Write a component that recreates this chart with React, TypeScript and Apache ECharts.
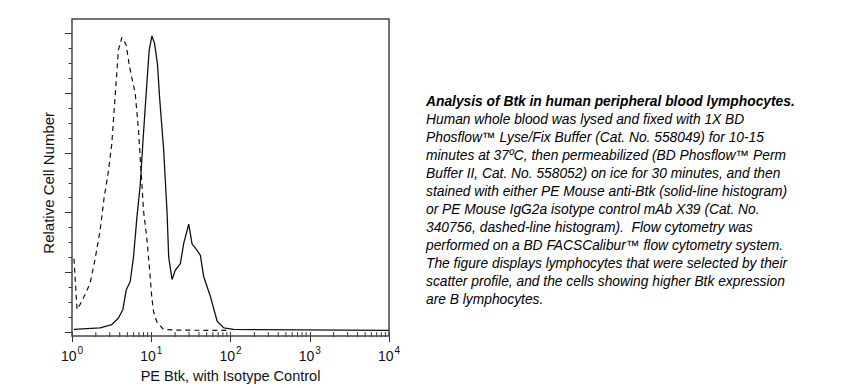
import React, { useEffect, useRef } from "react";
import * as echarts from "echarts";

// Solid-line histogram (PE anti-Btk): fluorescence (log), relative cell number
const solidX = [1.06, 2.26, 3.18, 3.86, 4.38, 4.83, 5.42, 5.97, 6.59, 7.26, 8.0, 8.82, 9.43, 10.2, 11.0, 12.0, 12.7, 14.3, 15.8, 16.6, 18.3, 20.1, 23.3, 25.6, 29.7, 32.7, 37.9, 41.7, 45.9, 55.8, 67.9, 82.2, 110, 10000];
const solidY = [0.045, 0.07, 0.127, 0.236, 0.375, 0.706, 0.843, 1.256, 1.917, 2.468, 3.35, 4.177, 4.727, 4.959, 4.838, 4.479, 3.955, 3.074, 2.028, 1.256, 0.881, 1.036, 1.145, 1.476, 1.807, 1.476, 1.367, 1.284, 0.926, 0.595, 0.182, 0.071, 0.045, 0.028];

// Dashed-line histogram (isotype control)
const dashX = [1.06, 1.157, 1.263, 1.461, 1.69, 1.955, 2.262, 2.541, 2.856, 3.18, 3.502, 3.855, 4.256, 4.826, 5.313, 5.748, 6.275, 6.91, 7.47, 7.99, 8.82, 9.51, 10.14, 10.69, 11.8, 14.3, 20.1, 100];
const dashY = [1.228, 0.38, 0.463, 0.628, 0.815, 1.223, 1.702, 2.248, 2.661, 3.157, 3.95, 4.727, 4.934, 4.81, 4.451, 4.231, 4.0, 3.372, 2.661, 2.033, 1.554, 1.058, 0.595, 0.347, 0.165, 0.045, 0.033, 0.028];

// Log-axis minor tick values
const minorTickValues = [
  2, 3, 4, 5, 6, 7, 8, 9,
  20, 30, 40, 50, 60, 70, 80, 90,
  200, 300, 400, 500, 600, 700, 800, 900,
  2000, 3000, 4000, 5000, 6000, 7000, 8000, 9000,
];

const xTitle = "PE Btk, with Isotype Control";
const yTitle = "Relative Cell Number";

const captionTitle = "Analysis of Btk in human peripheral blood lymphocytes.";
const captionLines = [
  "Human whole blood was lysed and fixed with 1X BD",
  "Phosflow™ Lyse/Fix Buffer (Cat. No. 558049) for 10-15",
  "minutes at 37ºC, then permeabilized (BD Phosflow™ Perm",
  "Buffer II, Cat. No. 558052) on ice for 30 minutes, and then",
  "stained with either PE Mouse anti-Btk (solid-line histogram)",
  "or PE Mouse IgG2a isotype control mAb X39 (Cat. No.",
  "340756, dashed-line histogram).  Flow cytometry was",
  "performed on a BD FACSCalibur™ flow cytometry system.",
  "The figure displays lymphocytes that were selected by their",
  "scatter profile, and the cells showing higher Btk expression",
  "are B lymphocytes.",
];

const FONT = "'Liberation Sans', Arial, sans-serif";
const AXIS_COLOR = "#333";
const LINE_COLOR = "#111";

export default function App() {
  const ref = useRef<HTMLDivElement>(null);

  useEffect(() => {
    if (!ref.current) return;
    const chart = echarts.init(ref.current, undefined, { renderer: "svg" });

    const captionText = [
      `{b|${captionTitle}}`,
      ...captionLines.map((l) => `{n|${l}}`),
    ].join("\n");

    const option: any = {
      animation: false,
      backgroundColor: "#fff",
      grid: { left: 72, right: 452, top: 33.5, bottom: 52 },
      xAxis: {
        type: "log",
        logBase: 10,
        min: 1,
        max: 10000,
        splitNumber: 4,
        name: xTitle,
        nameLocation: "middle",
        nameGap: 33,
        nameTextStyle: { fontFamily: FONT, fontSize: 14.5, color: "#111" },
        axisLine: { show: false },
        axisTick: { show: true, length: 10, lineStyle: { color: AXIS_COLOR, width: 1 } },
        splitLine: { show: false },
        axisLabel: {
          margin: 13,
          formatter: (v: number) => `{b|10}{s|${Math.round(Math.log10(v))}}`,
          rich: {
            b: { fontFamily: FONT, fontSize: 14, color: "#111" },
            s: { fontFamily: FONT, fontSize: 10, color: "#111", padding: [0, 0, 12, 1] },
          },
        },
      },
      yAxis: {
        type: "value",
        min: 0,
        max: 5,
        interval: 1,
        name: yTitle,
        nameLocation: "middle",
        nameRotate: 90,
        nameGap: 16,
        nameTextStyle: { fontFamily: FONT, fontSize: 15, color: "#111" },
        axisLine: { show: false },
        axisLabel: { show: false },
        splitLine: { show: false },
        axisTick: { show: true, length: 7, lineStyle: { color: AXIS_COLOR, width: 1 } },
        minorTick: { show: true, splitNumber: 4, length: 3.5, lineStyle: { color: AXIS_COLOR, width: 1 } },
      },
      series: [
        {
          type: "line",
          data: solidX.map((x, i) => [x, solidY[i]]),
          showSymbol: false,
          symbol: "none",
          lineStyle: { color: LINE_COLOR, width: 1.3 },
          z: 3,
        },
        {
          type: "line",
          data: dashX.map((x, i) => [x, dashY[i]]),
          showSymbol: false,
          symbol: "none",
          lineStyle: { color: LINE_COLOR, width: 1.2, type: [5, 4] },
          z: 2,
        },
        {
          type: "custom",
          data: minorTickValues.map((v) => [v, 0]),
          silent: true,
          clip: false,
          renderItem: (params: any, api: any) => {
            const p = api.coord([api.value(0), 0]);
            return {
              type: "line",
              shape: { x1: p[0], y1: p[1], x2: p[0], y2: p[1] + 5 },
              style: { stroke: AXIS_COLOR, lineWidth: 1 },
            };
          },
        },
      ],
      graphic: [
        {
          type: "rect",
          z: 100,
          silent: true,
          shape: { x: 72, y: 19, width: 317, height: 317 },
          style: { fill: "none", stroke: "#444", lineWidth: 1.5 },
        },
        {
          type: "text",
          x: 426,
          y: 92,
          silent: true,
          style: {
            text: captionText,
            verticalAlign: "top",
            align: "left",
            rich: {
              b: { fontFamily: FONT, fontSize: 13.8, fontWeight: "bold", fontStyle: "italic", lineHeight: 18, fill: "#000" },
              n: { fontFamily: FONT, fontSize: 13.8, fontStyle: "italic", lineHeight: 18, fill: "#000" },
            },
          },
        },
      ],
    };

    chart.setOption(option);
    return () => chart.dispose();
  }, []);

  return (
    <div
      ref={ref}
      style={{ position: "fixed", left: 0, top: 0, width: 841, height: 388, background: "#fff" }}
    />
  );
}
